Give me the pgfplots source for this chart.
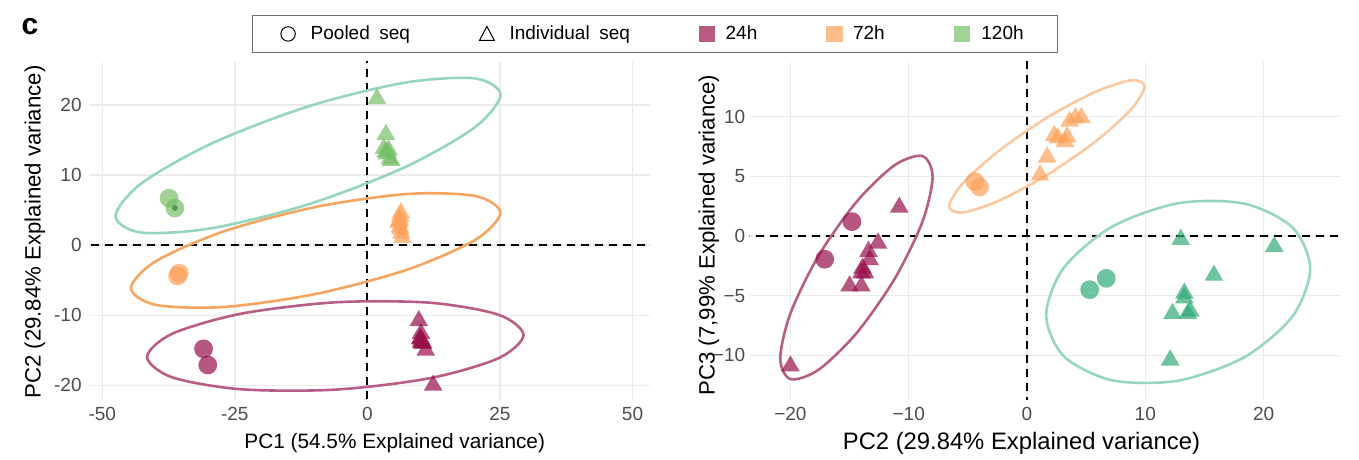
\documentclass[border=0pt]{standalone}
\usepackage{fontspec}
\setmainfont{Liberation Sans}
\usepackage{pgfplots}
\usepackage{pgfplotstable}
\pgfplotsset{compat=1.18}

\definecolor{c24}{RGB}{150,15,75}
\definecolor{c72}{RGB}{252,162,91}
\definecolor{c120a}{RGB}{119,191,105}
\definecolor{c120b}{RGB}{48,169,119}
\definecolor{e24}{RGB}{184,94,134}
\definecolor{e72a}{RGB}{245,165,95}
\definecolor{e72b}{RGB}{252,200,160}
\definecolor{e120}{RGB}{150,214,190}
\definecolor{l24}{RGB}{185,90,130}
\definecolor{l72}{RGB}{253,190,140}
\definecolor{l120}{RGB}{160,210,150}
\definecolor{gridc}{RGB}{235,235,235}
\definecolor{tickc}{RGB}{77,77,77}
\definecolor{legc}{RGB}{110,110,110}

% columns: PC1 PC2 PC3
\pgfplotstableread{
pc1 pc2 pc3
-30.9 -14.8 1.2
-30.1 -17.1 -1.95
}\poolA
\pgfplotstableread{
pc1 pc2 pc3
9.7 -10.8 2.4
10.1 -12.6 -0.6
10.0 -13.4 -1.3
10.0 -13.3 -2.0
10.2 -13.9 -2.7
10.2 -13.7 -3.1
10.5 -14.0 -3.1
10.4 -14.0 -4.2
11.0 -15.0 -4.2
12.4 -20.0 -10.9
}\indA
\pgfplotstableread{
pc1 pc2 pc3
-35.8 -4.4 4.55
-35.5 -4.0 4.1
}\poolB
\pgfplotstableread{
pc1 pc2 pc3
6.6 1.1 5.1
6.4 1.7 6.6
6.2 2.3 8.4
6.1 2.6 8.2
5.9 3.2 7.9
6.0 3.4 8.3
6.1 3.6 9.6
6.2 4.1 9.9
6.3 4.6 9.9
}\indB
\pgfplotstableread{
pc1 pc2 pc3
-37.4 6.7 -3.55
-36.3 5.3 -4.5
}\poolC
\pgfplotstableread{
pc1 pc2 pc3
1.8 20.9 -0.9
3.5 15.8 -3.3
3.1 13.8 -6.3
3.8 13.3 -4.8
3.6 13.0 -0.3
4.0 13.6 -6.5
4.2 12.3 -6.5
4.5 12.1 -10.4
3.4 13.3 -5.2
}\indC

\pgfplotsset{
  pcaaxis/.style={
    scale only axis, height=169pt,
    axis line style={draw=none}, major tick length=0pt,
    grid=major, major grid style={gridc, line width=0.7pt},
    tick label style={font=\fontsize{9.5}{11}\selectfont, text=tickc},
    xticklabel style={anchor=north, inner sep=0pt, yshift=-3.5pt},
    yticklabel style={anchor=east, inner sep=0pt, xshift=-3.5pt},
  },
  circ/.style={only marks, color=#1, mark=*, mark size=4.7pt, mark options={solid, fill=#1, draw opacity=0, fill opacity=0.7}, forget plot},
  tri/.style={only marks, color=#1, mark=triangle*, mark size=5.4pt, mark options={solid, fill=#1, draw opacity=0, fill opacity=0.7}, forget plot},
  ell/.style={#1, line width=1.3pt, smooth cycle, no marks, forget plot},
  zero/.style={black, line width=0.9pt, dash pattern=on 4pt off 3pt, no marks, forget plot},
}

\begin{document}
\begin{tikzpicture}
\path[use as bounding box] (0,0) rectangle (679.5pt,230pt);
\node[font=\fontsize{15}{17}\selectfont\bfseries] at (15pt,216.5pt) {c};

\begin{axis}[pcaaxis,
  at={(44.5pt,30pt)}, anchor=south west, width=280.5pt,
  xmin=-52.5, xmax=53.3, ymin=-22.1, ymax=26.14,
  xtick={-50,-25,0,25,50}, xticklabels={-50,-25,0,25,50},
  ytick={-20,-10,0,10,20}, yticklabels={-20,-10,0,10,20},
  xlabel={PC1 (54.5\% Explained variance)},
  ylabel={PC2 (29.84\% Explained variance)},
  xlabel style={at={(axis description cs:0.545,-0.127)}, anchor=center, font=\fontsize{10.4}{12}\selectfont},
  ylabel style={at={(axis description cs:-0.0963,0.497)}, anchor=center, font=\fontsize{11.1}{13}\selectfont},
  legend columns=5,
  legend cell align=left,
  legend style={at={(axis description cs:1.009,1.083)}, anchor=center,
    draw=legc, line width=0.6pt, inner xsep=14pt, inner ysep=4.5pt,
    font=\fontsize{9.5}{11}\selectfont,
    nodes={inner xsep=3pt, inner ysep=0.5pt},
    /tikz/every even column/.append style={column sep=31.5pt}},
]
\addlegendimage{legend image code/.code={\draw[black, line width=0.5pt] (3pt,0pt) circle (3.6pt); \path (11pt,0pt);}}
\addlegendentry{Pooled\enspace seq}
\addlegendimage{legend image code/.code={\draw[black, line width=0.5pt] (0.3pt,-3.2pt) -- (7.7pt,-3.2pt) -- (4pt,3.8pt) -- cycle; \path (12pt,0pt);}}
\addlegendentry{Individual\enspace seq}
\addlegendimage{legend image code/.code={\fill[l24] (0.25pt,-3.75pt) rectangle (7.75pt,3.75pt); \path (10pt,0pt);}}
\addlegendentry{24h}
\addlegendimage{legend image code/.code={\fill[l72] (0.25pt,-3.75pt) rectangle (7.75pt,3.75pt); \path (10pt,0pt);}}
\addlegendentry{72h}
\addlegendimage{legend image code/.code={\fill[l120] (0.25pt,-3.75pt) rectangle (7.75pt,3.75pt); \path (10.5pt,0pt);}}
\addlegendentry{120h}

\addplot[zero] coordinates {(-60,0) (60,0)};
\addplot[zero] coordinates {(0,-30) (0,30)};

\addplot[circ=c24] table[x=pc1, y=pc2] {\poolA};
\addplot[tri=c24] table[x=pc1, y=pc2] {\indA};
\addplot[circ=c72] table[x=pc1, y=pc2] {\poolB};
\addplot[tri=c72] table[x=pc1, y=pc2] {\indB};
\addplot[circ=c120a] table[x=pc1, y=pc2] {\poolC};
\addplot[tri=c120a] table[x=pc1, y=pc2] {\indC};
% small dark point drawn inside one pooled 120h circle
\addplot[only marks, mark=*, mark size=1.3pt, color={rgb,255:red,95;green,150;blue,95}, forget plot] coordinates {(-36.3,5.3)};

\addplot[ell=e120] coordinates {(25.1,21.46) (20.24,23.80) (6.95,23.18) (-11.2,19.79) (-29.35,14.52) (-42.64,8.80) (-47.5,4.14) (-42.64,1.80) (-29.35,2.42) (-11.2,5.81) (6.95,11.08) (20.24,16.80)};
\addplot[ell=e72a] coordinates {(25.09,4.61) (20.42,7.00) (7.67,7.31) (-9.75,5.45) (-27.17,1.94) (-39.92,-2.31) (-44.59,-6.13) (-39.92,-8.52) (-27.17,-8.83) (-9.75,-6.97) (7.67,-3.46) (20.42,0.79)};
\addplot[ell=e24] coordinates {(29.45,-12.82) (24.69,-9.92) (11.70,-8.21) (-6.05,-8.16) (-23.80,-9.78) (-36.79,-12.64) (-41.55,-15.96) (-36.79,-18.87) (-23.80,-20.57) (-6.05,-20.62) (11.70,-19.00) (24.69,-16.15)};
\end{axis}

\begin{axis}[pcaaxis,
  at={(374.8pt,30pt)}, anchor=south west, width=295.2pt,
  yticklabel style={xshift=1.5pt},
  xmin=-23.45, xmax=26.46, ymin=-13.74, ymax=14.57,
  xtick={-20,-10,0,10,20}, xticklabels={−20,−10,0,10,20},
  ytick={-10,-5,0,5,10}, yticklabels={−10,−5,0,5,10},
  xlabel={PC2 (29.84\% Explained variance)},
  ylabel={PC3 (7,99\% Explained variance)},
  xlabel style={at={(axis description cs:0.4605,-0.127)}, anchor=center, font=\fontsize{11.9}{14}\selectfont},
  ylabel style={at={(axis description cs:-0.069,0.488)}, anchor=center, font=\fontsize{11.1}{13}\selectfont},
]
\addplot[zero] coordinates {(-30,0) (30,0)};
\addplot[zero] coordinates {(0,-20) (0,20)};

\addplot[circ=c24] table[x=pc2, y=pc3] {\poolA};
\addplot[tri=c24] table[x=pc2, y=pc3] {\indA};
\addplot[circ=c72] table[x=pc2, y=pc3] {\poolB};
\addplot[tri=c72] table[x=pc2, y=pc3] {\indB};
\addplot[circ=c120b] table[x=pc2, y=pc3] {\poolC};
\addplot[tri=c120b] table[x=pc2, y=pc3] {\indC};

\addplot[ell=e24] coordinates {(-7.98,4.96) (-8.84,6.69) (-11.20,5.92) (-14.42,2.85) (-17.64,-1.69) (-20.0,-6.49) (-20.86,-10.26) (-20.0,-11.99) (-17.64,-11.22) (-14.42,-8.15) (-11.20,-3.61) (-8.84,1.19)};
\addplot[ell=e72b] coordinates {(9.93,12.51) (8.83,13.04) (5.81,12.08) (1.68,9.90) (-2.45,7.07) (-5.47,4.36) (-6.57,2.49) (-5.47,1.96) (-2.45,2.92) (1.68,5.10) (5.81,7.93) (8.83,10.64)};
\addplot[ell=e120] coordinates {(23.94,-2.76) (22.45,0.70) (18.36,2.71) (12.78,2.74) (7.20,0.78) (3.12,-2.65) (1.62,-6.62) (3.12,-10.08) (7.20,-12.09) (12.78,-12.12) (18.36,-10.16) (22.45,-6.73)};
\end{axis}
\end{tikzpicture}
\end{document}
